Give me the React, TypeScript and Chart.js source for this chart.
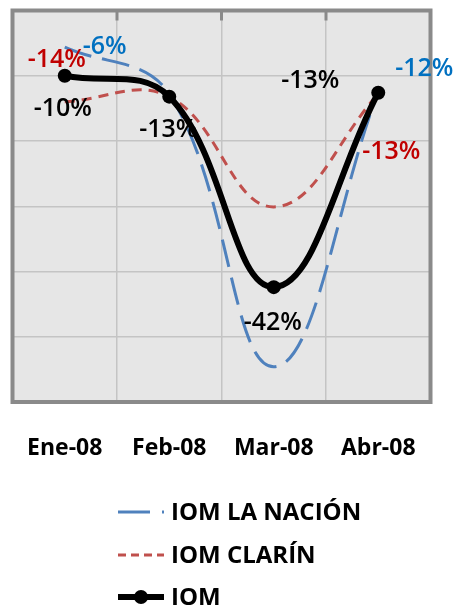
import React, { useEffect, useRef } from "react";
import { Chart, registerables } from "chart.js";

Chart.register(...registerables);

// ---- data ----
const categories = ["Ene-08", "Feb-08", "Mar-08", "Abr-08"];
const seriesNames = ["IOM LA NACIÓN", "IOM CLARÍN", "IOM"];
const laNacion = [-5.6, -12.8, -54.6, -12.4];
const clarin = [-14, -13.2, -30.1, -12.8];
const iom = [-10, -13.2, -42.4, -12.6];
const laNacionLabels = ["-6%", "", "", "-12%"];
const clarinLabels = ["-14%", "", "", "-13%"];
const iomLabels = ["-10%", "-13%", "-42%", "-13%"];
const yMin = -60;
const yMax = 0;
const yStep = 10;

// ---- styles / placement ----
const FONT = "'Open Sans', 'Liberation Sans', sans-serif";
const labelColors = ["#0070C0", "#C00000", "#000000"];
const labelOffsets: (number[] | null)[][] = [
  [[40, 0], null, null, [46, -23]],
  [[-8, -42], null, null, [13, 58]],
  [[-2, 33], [-1, 33], [-1, 36], [-68, -12]],
];
const legendLayout = { x0: 118, x1: 164, textX: 171, rows: [512, 555, 597] };

const decorPlugin = {
  id: "decor",
  beforeDraw(chart: any) {
    const { ctx, chartArea: a } = chart;
    ctx.save();
    ctx.fillStyle = "#e6e6e6";
    ctx.fillRect(a.left, a.top, a.right - a.left, a.bottom - a.top);
    ctx.restore();
  },
  beforeDatasetsDraw(chart: any) {
    const { ctx, chartArea: a } = chart;
    const xs = chart.scales.x;
    ctx.save();
    ctx.strokeStyle = "#8a8a8a";
    ctx.lineWidth = 3;
    for (let i = 1; i < categories.length; i++) {
      const px = (xs.getPixelForTick(i - 1) + xs.getPixelForTick(i)) / 2;
      ctx.beginPath();
      ctx.moveTo(px, a.top);
      ctx.lineTo(px, a.top + 10);
      ctx.stroke();
    }
    ctx.lineWidth = 4;
    ctx.strokeRect(a.left, a.top, a.right - a.left, a.bottom - a.top);
    ctx.restore();
  },
  afterDatasetsDraw(chart: any) {
    const { ctx } = chart;
    const allLabels = [laNacionLabels, clarinLabels, iomLabels];
    ctx.save();
    ctx.font = `600 25px ${FONT}`;
    ctx.textAlign = "center";
    ctx.textBaseline = "middle";
    chart.data.datasets.forEach((ds: any, di: number) => {
      const meta = chart.getDatasetMeta(di);
      allLabels[di].forEach((txt, i) => {
        const off = labelOffsets[di][i];
        if (!txt || !off) return;
        const el = meta.data[i];
        ctx.fillStyle = labelColors[di];
        ctx.fillText(txt, el.x + off[0], el.y + off[1]);
      });
    });
    ctx.restore();
  },
  afterDraw(chart: any) {
    const { ctx } = chart;
    const { x0, x1, textX, rows } = legendLayout;
    ctx.save();
    chart.data.datasets.forEach((ds: any, di: number) => {
      const y = rows[di];
      ctx.strokeStyle = ds.borderColor;
      ctx.lineWidth = ds.borderWidth;
      ctx.setLineDash(ds.legendDash || []);
      ctx.beginPath();
      ctx.moveTo(x0, y);
      ctx.lineTo(x1, y);
      ctx.stroke();
      ctx.setLineDash([]);
      if (ds.pointRadius > 0) {
        ctx.fillStyle = ds.pointBackgroundColor;
        ctx.beginPath();
        ctx.arc((x0 + x1) / 2, y, ds.pointRadius, 0, Math.PI * 2);
        ctx.fill();
      }
      ctx.fillStyle = "#000";
      ctx.font = `bold 24px ${FONT}`;
      ctx.textAlign = "left";
      ctx.textBaseline = "middle";
      ctx.fillText(ds.label, textX, y + 1);
    });
    ctx.restore();
  },
};

export default function App() {
  const canvasRef = useRef<HTMLCanvasElement | null>(null);

  useEffect(() => {
    const canvas = canvasRef.current;
    if (!canvas) return;
    const gridColor = "#c4c4c4";
    const chart = new Chart(canvas, {
      type: "line",
      data: {
        labels: categories,
        datasets: [
          {
            label: seriesNames[0],
            data: laNacion,
            borderColor: "#4F81BD",
            borderWidth: 3,
            borderDash: [28, 11],
            legendDash: [32, 12],
            pointRadius: 0,
            tension: 0.4,
            fill: false,
            order: 2,
          } as any,
          {
            label: seriesNames[1],
            data: clarin,
            borderColor: "#C0504D",
            borderWidth: 3,
            borderDash: [10, 7],
            legendDash: [8, 5],
            pointRadius: 0,
            tension: 0.4,
            fill: false,
            order: 1,
          } as any,
          {
            label: seriesNames[2],
            data: iom,
            borderColor: "#000000",
            borderWidth: 6,
            pointRadius: 7,
            pointBackgroundColor: "#000000",
            pointBorderColor: "#000000",
            pointBorderWidth: 0,
            tension: 0.4,
            fill: false,
            order: 0,
          } as any,
        ],
      },
      options: {
        animation: false,
        responsive: true,
        maintainAspectRatio: false,
        layout: { padding: { left: 12.5, top: 10.5, right: 26.5, bottom: 146 } },
        plugins: {
          legend: { display: false },
          tooltip: { enabled: false },
        },
        scales: {
          x: {
            type: "category",
            offset: true,
            grid: { offset: true, drawTicks: false, color: gridColor, lineWidth: 1.5 },
            border: { display: false },
            ticks: {
              color: "#000",
              font: { family: FONT, size: 23, weight: "bold" },
              padding: 33,
              maxRotation: 0,
              autoSkip: false,
            },
            afterFit: (s: any) => {
              s.height = 60;
              s.paddingLeft = 0;
              s.paddingRight = 0;
            },
          },
          y: {
            min: yMin,
            max: yMax,
            ticks: { stepSize: yStep, display: false },
            grid: { drawTicks: false, color: gridColor, lineWidth: 1.5 },
            border: { display: false },
            afterFit: (s: any) => {
              s.width = 0;
              s.paddingTop = 0;
              s.paddingBottom = 0;
            },
          },
        },
      } as any,
      plugins: [decorPlugin],
    });
    return () => chart.destroy();
  }, []);

  return (
    <div style={{ position: "fixed", left: 0, top: 0, width: 457, height: 608, background: "#fff" }}>
      <canvas ref={canvasRef} />
    </div>
  );
}
